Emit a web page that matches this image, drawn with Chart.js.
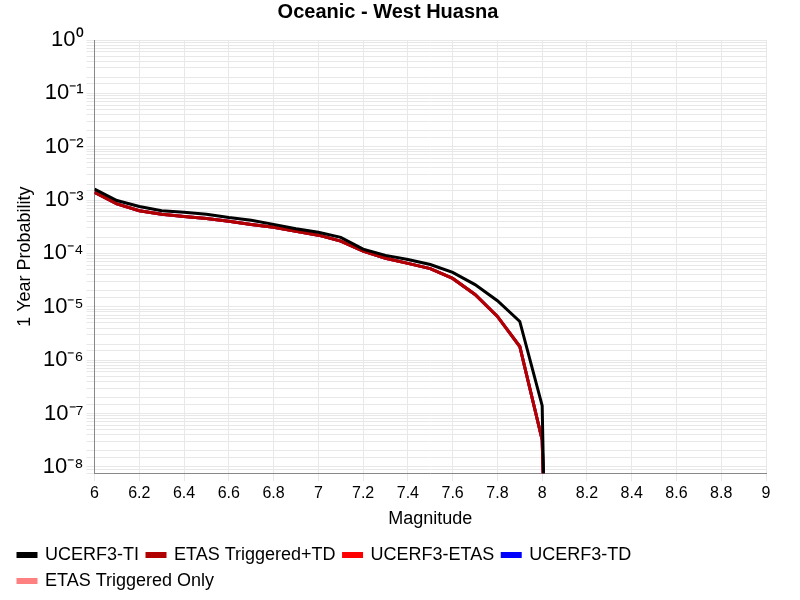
<!DOCTYPE html>
<html><head><meta charset="utf-8">
<script src="https://cdn.jsdelivr.net/npm/chart.js@4"></script>
<style>html,body{margin:0;background:#fff}#c{width:800px;height:600px}</style>
</head><body><div id="c"><canvas id="cv" width="800" height="600"></canvas></div>
<script>
const magnitudes=[6.0,6.1,6.2,6.3,6.4,6.5,6.6,6.7,6.8,6.9,7.0,7.1,7.2,7.3,7.4,7.5,7.6,7.7,7.8,7.9,8.0,8.01];
const ti=[1.6e-3,9.8e-4,7.6e-4,6.3e-4,5.9e-4,5.4e-4,4.7e-4,4.2e-4,3.5e-4,2.9e-4,2.5e-4,2.0e-4,1.2e-4,9.2e-5,7.7e-5,6.2e-5,4.4e-5,2.6e-5,1.3e-5,5.3e-6,1.4e-7,1e-9];
const td=[1.4e-3,8.5e-4,6.3e-4,5.4e-4,4.9e-4,4.5e-4,4.0e-4,3.5e-4,3.1e-4,2.6e-4,2.2e-4,1.7e-4,1.1e-4,8.1e-5,6.5e-5,5.2e-5,3.4e-5,1.7e-5,6.6e-6,1.8e-6,3.2e-8,1e-9];
const etas=td.slice();
const trigTD=td.slice();
const trigOnly=[];
const sup={'-':'⁻','0':'⁰','1':'¹','2':'²','3':'³','4':'⁴','5':'⁵','6':'⁶','7':'⁷','8':'⁸','9':'⁹'};
function pts(a){return a.map((v,i)=>({x:magnitudes[i],y:v}));}
function ds(label,data,color,order){return {label,data:pts(data),borderColor:color,backgroundColor:color,borderWidth:3,pointRadius:0,tension:0,order};}
new Chart(document.getElementById('cv'),{
type:'line',
data:{datasets:[ds('UCERF3-TI',ti,'#000000',0),ds('UCERF3-TD',td,'#0000ff',4),ds('UCERF3-ETAS',etas,'#ff0000',2),ds('ETAS Triggered+TD',trigTD,'#b00000',1),ds('ETAS Triggered Only',trigOnly,'#ff8080',5)]},
options:{responsive:false,animation:false,
layout:{padding:{right:34,left:10}},
plugins:{title:{display:true,text:'Oceanic - West Huasna',font:{family:'Liberation Sans',size:20,weight:'bold'},color:'#000',padding:{top:0,bottom:16}},
legend:{position:'bottom',align:'start',labels:{boxWidth:18,boxHeight:3,font:{family:'Liberation Sans',size:18},color:'#000',padding:8}}},
scales:{
x:{type:'linear',min:6,max:9,title:{display:true,text:'Magnitude',font:{family:'Liberation Sans',size:18},color:'#000',padding:{top:2,bottom:8}},
ticks:{stepSize:0.2,font:{family:'Liberation Sans',size:16},color:'#000',callback:v=>String(Math.round(v*10)/10)},
grid:{color:'#e8e8e8'},border:{color:'#888'}},
y:{type:'logarithmic',min:7.6e-9,max:1,title:{display:true,text:'1 Year Probability',font:{family:'Liberation Sans',size:18},color:'#000'},
ticks:{autoSkip:false,font:{family:'Liberation Sans',size:22},color:'#000',callback:v=>{const l=Math.log10(v);if(Math.abs(l-Math.round(l))<1e-6){return '10'+String(Math.round(l)).split('').map(c=>sup[c]).join('');}return '';}},
grid:{color:'#e8e8e8'},border:{color:'#888'}}
}}});
</script></body></html>
